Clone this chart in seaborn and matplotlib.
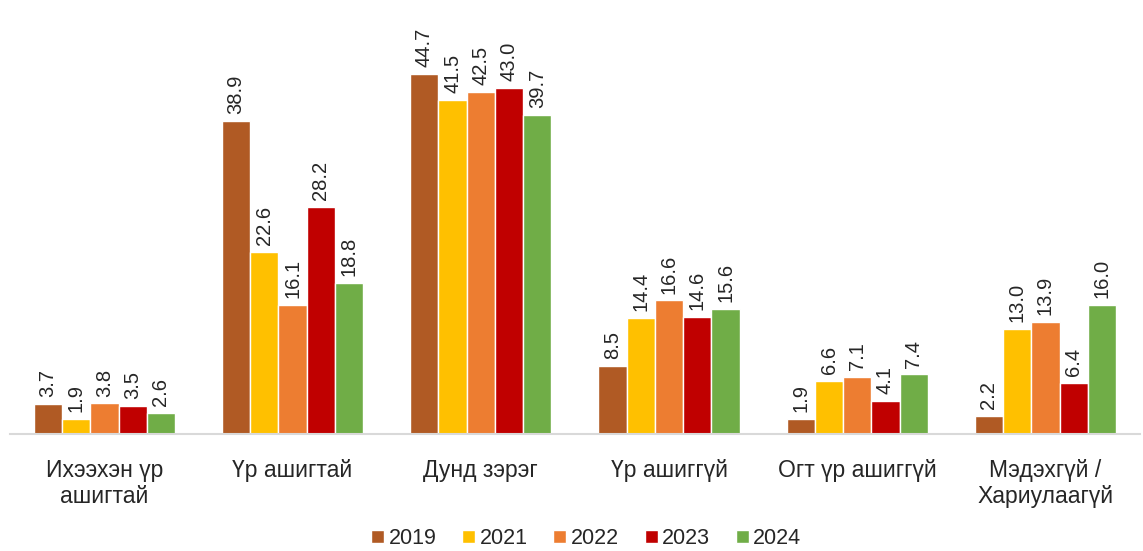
import pandas as pd
import matplotlib.pyplot as plt
import seaborn as sns

sns.set_theme(style="white")
plt.rcParams['font.family'] = ['Liberation Sans', 'DejaVu Sans']

categories = ["Ихээхэн үр\nашигтай", "Үр ашигтай", "Дунд зэрэг",
              "Үр ашиггүй", "Огт үр ашиггүй", "Мэдэхгүй /\nХариулаагүй"]
years = ["2019", "2021", "2022", "2023", "2024"]
v2019 = [3.7, 38.9, 44.7, 8.5, 1.9, 2.2]
v2021 = [1.9, 22.6, 41.5, 14.4, 6.6, 13.0]
v2022 = [3.8, 16.1, 42.5, 16.6, 7.1, 13.9]
v2023 = [3.5, 28.2, 43.0, 14.6, 4.1, 6.4]
v2024 = [2.6, 18.8, 39.7, 15.6, 7.4, 16.0]
colors = ["#B05A24", "#FFC000", "#ED7D31", "#C00000", "#70AD47"]

rows = []
for yr, vals in zip(years, [v2019, v2021, v2022, v2023, v2024]):
    for cat, v in zip(categories, vals):
        rows.append({"cat": cat, "year": yr, "value": v})
df = pd.DataFrame(rows)

fig = plt.figure(figsize=(11.43, 5.51), dpi=100)
ax = fig.add_axes([0.009, 0.2123, 0.988, 0.73])

sns.barplot(data=df, x="cat", y="value", hue="year", palette=colors,
            saturation=1, width=0.75, edgecolor="white", linewidth=1, ax=ax)

for cont in ax.containers:
    ax.bar_label(cont, fmt="%.1f", rotation=90, padding=5, fontsize=14.5)

ax.set_ylim(0, 50)
ax.set_xlim(-0.5, 5.5)
ax.set_xlabel("")
ax.set_ylabel("")
ax.set_yticks([])
ax.tick_params(axis="x", length=0, pad=18, labelsize=16.5)
for lbl in ax.get_xticklabels():
    lbl.set_linespacing(1.15)
for s in ["top", "right", "left"]:
    ax.spines[s].set_visible(False)
ax.spines["bottom"].set_color("#D9D9D9")
ax.spines["bottom"].set_linewidth(1.5)

ax.legend(loc="center", bbox_to_anchor=(0.51, -0.26), ncol=5, frameon=False,
          fontsize=15.5, handlelength=0.6, handleheight=0.6, handletextpad=0.2,
          columnspacing=1.2, borderpad=0)

fig.savefig("out.png", dpi=100)
